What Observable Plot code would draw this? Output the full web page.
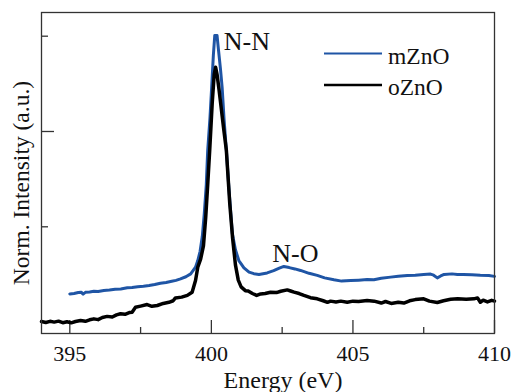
<!DOCTYPE html>
<html><head><meta charset="utf-8">
<script src="https://cdn.jsdelivr.net/npm/d3@7"></script>
<script src="https://cdn.jsdelivr.net/npm/@observablehq/plot@0.6"></script>
<style>
body{margin:0;background:#fff;}
#wrap{position:relative;width:513px;height:392px;}
#legend{position:absolute;left:0;top:0;pointer-events:none;}
</style></head><body><div id="wrap"></div>
<script>
// Energy (eV) and normalized intensity
const mZnO_x = [395.0,395.15,395.3,395.4,395.47,395.55,395.7,395.85,396.0,396.2,396.4,396.6,396.8,397.03,397.2,397.4,397.6,397.8,398.0,398.2,398.4,398.6,398.75,398.91,399.1,399.27,399.44,399.52,399.6,399.68,399.75,399.82,399.87,399.95,400.01,400.07,400.12,400.2,400.25,400.32,400.38,400.45,400.53,400.62,400.74,400.85,400.97,401.15,401.33,401.5,401.68,401.97,402.2,402.4,402.56,402.75,402.95,403.15,403.45,403.74,404.0,404.33,404.6,404.92,405.2,405.5,405.74,406.0,406.33,406.6,406.92,407.2,407.5,407.74,407.85,407.98,408.1,408.22,408.5,408.69,408.9,409.2,409.5,409.8,410.0];
const mZnO_y = [0.148,0.150,0.155,0.157,0.147,0.156,0.158,0.162,0.161,0.166,0.168,0.172,0.174,0.180,0.181,0.185,0.188,0.192,0.197,0.204,0.208,0.214,0.219,0.227,0.238,0.253,0.288,0.323,0.37,0.45,0.57,0.72,0.90,1.07,1.232,1.40,1.504,1.504,1.43,1.33,1.232,1.06,0.90,0.70,0.464,0.38,0.323,0.285,0.262,0.254,0.250,0.258,0.270,0.283,0.292,0.286,0.279,0.271,0.256,0.245,0.232,0.222,0.215,0.218,0.220,0.223,0.222,0.230,0.236,0.240,0.245,0.246,0.250,0.252,0.246,0.232,0.242,0.250,0.253,0.250,0.250,0.248,0.246,0.245,0.240];
const oZnO_x = [394.0,394.15,394.3,394.45,394.6,394.75,394.9,395.05,395.2,395.38,395.55,395.7,395.85,396.0,396.15,396.32,396.5,396.65,396.79,396.95,397.1,397.2,397.32,397.5,397.73,397.9,398.09,398.3,398.5,398.65,398.73,398.95,399.15,399.32,399.44,399.52,399.62,399.72,399.8,399.87,399.94,400.03,400.1,400.15,400.2,400.27,400.33,400.43,400.53,400.65,400.75,400.85,400.95,401.05,401.2,401.3,401.45,401.6,401.74,401.9,402.09,402.3,402.45,402.68,402.8,402.92,403.1,403.27,403.5,403.74,403.95,404.1,404.21,404.4,404.57,404.8,405.0,405.2,405.5,405.75,406.0,406.15,406.35,406.6,406.8,407.0,407.2,407.5,407.7,407.98,408.2,408.45,408.7,409.0,409.27,409.4,409.5,409.6,409.75,409.9,410.0];
const oZnO_y = [0.003,-0.002,0.004,0.000,0.005,-0.003,0.002,-0.004,0.003,0.008,0.004,0.012,0.017,0.013,0.024,0.030,0.027,0.038,0.044,0.041,0.050,0.052,0.078,0.084,0.092,0.083,0.087,0.098,0.104,0.112,0.127,0.131,0.140,0.157,0.218,0.288,0.33,0.40,0.55,0.72,0.90,1.15,1.30,1.337,1.30,1.22,1.145,1.02,0.90,0.62,0.44,0.30,0.22,0.185,0.165,0.163,0.150,0.140,0.148,0.150,0.157,0.155,0.162,0.169,0.163,0.157,0.150,0.140,0.128,0.122,0.112,0.104,0.110,0.106,0.110,0.104,0.110,0.108,0.113,0.110,0.100,0.108,0.098,0.104,0.100,0.112,0.118,0.122,0.110,0.103,0.112,0.120,0.122,0.120,0.122,0.127,0.104,0.115,0.106,0.114,0.110];

const seriesNames = ["mZnO", "oZnO"];
const seriesColors = ["#1f55a5", "#000000"];
const xMajor = [395, 400, 405, 410];
const xMinor = [397.5, 402.5, 407.5];
const yMajor = [0, 1];
const yMinor = [0.5, 1.5];
const annotText = ["N-N", "N-O"];
const annotX = [400.44, 402.15];
const annotY = [1.425, 0.314];
const xLabel = "Energy (eV)";
const yLabel = "Norm. Intensity (a.u.)";

const mData = mZnO_x.map((x, i) => ({x, y: mZnO_y[i]}));
const oData = oZnO_x.map((x, i) => ({x, y: oZnO_y[i]}));
const fontFam = '"Liberation Serif","Times New Roman",serif';
const axisColor = "#333";

const plot = Plot.plot({
  width: 513, height: 392,
  marginLeft: 41, marginRight: 19, marginTop: 12, marginBottom: 59,
  style: {fontFamily: fontFam, background: "#fff", color: "#111"},
  x: {domain: [394, 410]},
  y: {domain: [-0.0598, 1.6243]},
  marks: [
    Plot.axisX(xMajor, {tickSize: -13, tickFormat: () => "", label: null, stroke: axisColor, strokeWidth: 1.3}),
    Plot.axisX(xMinor, {tickSize: -6, tickFormat: () => "", label: null, stroke: axisColor, strokeWidth: 1.3}),
    Plot.axisX(xMajor, {tickSize: 0, tickPadding: 12, fontSize: 22, fontFamily: fontFam, label: null, fill: "#111"}),
    Plot.axisY(yMajor, {tickSize: -13, tickFormat: () => "", label: null, stroke: axisColor, strokeWidth: 1.3}),
    Plot.axisY(yMinor, {tickSize: -7, tickFormat: () => "", label: null, stroke: axisColor, strokeWidth: 1.3}),
    Plot.line(mData, {x: "x", y: "y", stroke: seriesColors[0], strokeWidth: 3, curve: "linear"}),
    Plot.line(oData, {x: "x", y: "y", stroke: seriesColors[1], strokeWidth: 3.5, curve: "linear"}),
    Plot.text(annotText, {x: (d, i) => annotX[i], y: (d, i) => annotY[i], text: d => d, textAnchor: "start", lineAnchor: "bottom", fontSize: 26, fontFamily: fontFam, fill: "#111"}),
    Plot.text([xLabel], {frameAnchor: "bottom", dx: 15, dy: 54, textAnchor: "middle", lineAnchor: "bottom", fontSize: 24, fontFamily: fontFam, text: d => d, fill: "#111"}),
    Plot.text([yLabel], {frameAnchor: "left", rotate: -90, dx: -12.5, dy: 10, textAnchor: "middle", lineAnchor: "bottom", fontSize: 23.5, fontFamily: fontFam, text: d => d, fill: "#111"}),
    Plot.frame({stroke: axisColor, strokeWidth: 1.3})
  ]
});
const wrap = document.getElementById("wrap");
wrap.appendChild(plot);

// legend overlay inside the plot area
const leg = d3.select(wrap).append("svg").attr("id", "legend").attr("width", 513).attr("height", 120);
seriesNames.forEach((name, i) => {
  const yLine = 53.5 + i * 31.5;
  leg.append("line").attr("x1", 324).attr("x2", 382).attr("y1", yLine).attr("y2", yLine)
    .attr("stroke", seriesColors[i]).attr("stroke-width", i === 0 ? 2.2 : 2.6);
  leg.append("text").attr("x", 388).attr("y", yLine + 10).text(name)
    .attr("font-family", fontFam).attr("font-size", 23.5).attr("fill", "#111");
});
</script></body></html>
